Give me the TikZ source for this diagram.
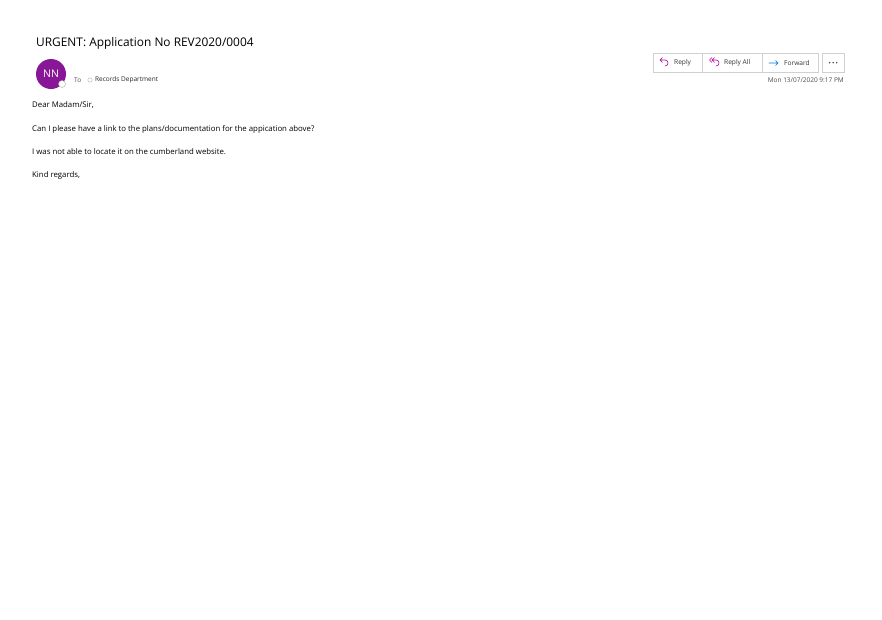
\documentclass[tikz,border=0pt]{standalone}
\usepackage{fontspec}
\setmainfont{Open Sans}
\usetikzlibrary{positioning}
\definecolor{avatar}{HTML}{881798}
\definecolor{replyc}{HTML}{B4009E}
\definecolor{fwdc}{HTML}{0078D4}
\definecolor{btnline}{HTML}{D0D0D0}
\tikzset{
	every node/.style={
		font=\fontsize{7}{8}\selectfont, inner sep=0pt, anchor=west
	},
	bodytext/.style={
		font=\fontsize{7.8}{9}\selectfont
	},
	btn/.style={
		shape=rectangle,
		draw=btnline,
		minimum height=19pt,
		anchor=north west
	},
	btnlabel/.style={
		font=\fontsize{6.6}{7}\selectfont, text=black!80
	},
	smalltext/.style={
		font=\fontsize{6.5}{7}\selectfont, text=black!70
	},
	icon/.style={line width=0.6pt, line cap=round, line join=round},
}
\begin{document}
\begin{tikzpicture}[x=1pt,y=-1pt]
	\useasboundingbox (0,0) rectangle (882,619);
	
	\node[font=\fontsize{11.9}{14}\selectfont] (title) at (36,43) {URGENT: Application No REV2020/0004};
	
	% sender
	\fill[avatar] (51,74) circle (15);
	\node[anchor=center, text=white, font=\fontsize{10.5}{12}\selectfont] (nn) at (51,74) {NN};
	\draw[black!35, fill=white] (62,84) circle (3.5);
	\node[smalltext] (to) at (74,80) {To};
	\draw[black!30] (90,80) circle (2.2);
	\node[smalltext, text=black!85] (rcpt) at (95,80) {Records Department};
	
	% buttons
	\node[btn, minimum width=49pt] (reply) at (653,53) {};
	\node[btn, minimum width=60pt] (replyall) at (702,53) {};
	\node[btn, minimum width=56pt] (forward) at (762,53) {};
	\node[btn, minimum width=22pt] (more) at (822,53) {};
	\node[btnlabel] (replytxt) at (674,63) {Reply};
	\node[btnlabel] (replyalltxt) at (724,63) {Reply All};
	\node[btnlabel] (forwardtxt) at (784,63) {Forward};
	\foreach \dx in {-3.5,0,3.5}
		\fill[black!75] ([xshift=\dx pt]more.center) circle (0.8);
	\draw[replyc, icon] (660,60) -- (662.5,57.5) (660,60) -- (662.5,62.5)
		(660,60) -- (665,60) .. controls (669,60) and (669,66) .. (665,66);
	\draw[replyc, icon] (712,60) -- (714.5,57.5) (712,60) -- (714.5,62.5)
		(709.5,60) -- (712,57.5) (709.5,60) -- (712,62.5)
		(712,60) -- (716,60) .. controls (720,60) and (720,66) .. (716,66);
	\draw[fwdc, icon] (769,63) -- (778,63) (775.5,60.5) -- (778,63) -- (775.5,65.5);
	\node[anchor=east, smalltext] (date) at (844,80) {Mon 13/07/2020 9:17 PM};
	
	% message body
	\node[bodytext] (l1) at (32,105) {Dear Madam/Sir,};
	\node[bodytext] (l2) at (32,129) {Can I please have a link to the plans/documentation for the appication above?};
	\node[bodytext] (l3) at (32,152) {I was not able to locate it on the cumberland website.};
	\node[bodytext] (l4) at (32,175) {Kind regards,};
\end{tikzpicture}
\end{document}
